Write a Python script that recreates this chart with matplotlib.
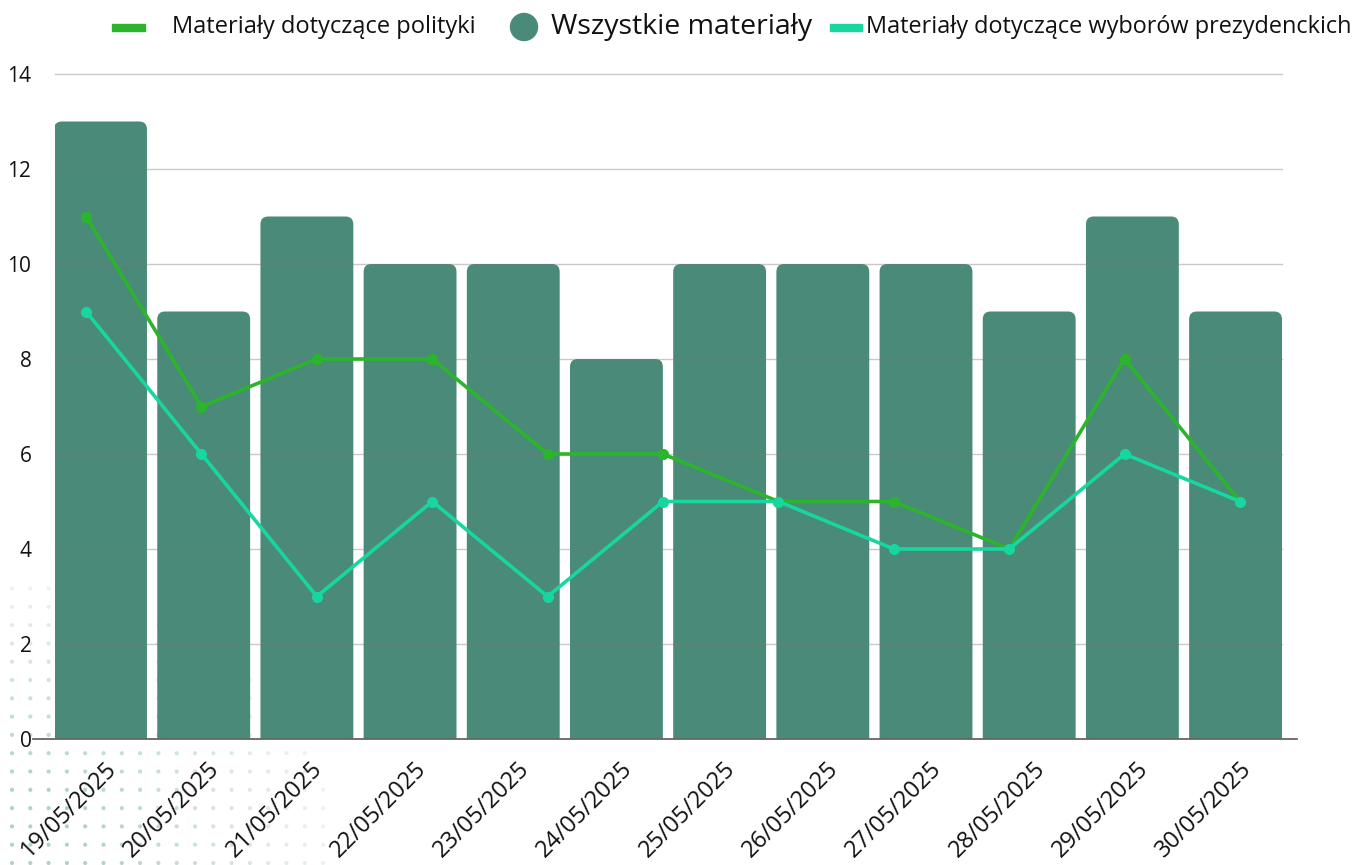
import numpy as np
import matplotlib
matplotlib.use("Agg")
import matplotlib.pyplot as plt
from matplotlib.patches import FancyBboxPatch, Rectangle, Ellipse
import matplotlib.transforms as mtransforms

plt.rcParams['font.family'] = ['Open Sans', 'DejaVu Sans']

dates = ["19/05/2025", "20/05/2025", "21/05/2025", "22/05/2025", "23/05/2025",
         "24/05/2025", "25/05/2025", "26/05/2025", "27/05/2025", "28/05/2025",
         "29/05/2025", "30/05/2025"]
wszystkie = [13, 9, 11, 10, 10, 8, 10, 10, 10, 9, 11, 9]
polityka = [11, 7, 8, 8, 6, 6, 5, 5, 4, 8, 5]
wybory = [9, 6, 3, 5, 3, 5, 5, 4, 4, 6, 5]

BAR = '#4a8a78'
GREEN = '#2cb52c'
TEAL = '#17d6a0'
TXT = '#111111'

W, H = 1357, 865
fig = plt.figure(figsize=(W / 100, H / 100), dpi=100)

# decorative dot pattern (lower-left), background axes in pixel units
bg = fig.add_axes([0, 0, 1, 1], zorder=-1)
bg.set_xlim(0, W)
bg.set_ylim(0, H)
bg.axis('off')
xs = np.arange(12, 360, 18.3)
ys = np.arange(2, 300, 18.3)
gx, gy = np.meshgrid(xs, ys)
d = np.hypot(gx / 340, gy / 290)
m = d < 1.0
bg.scatter(gx[m], gy[m], s=9, color='#a9cfc0',
           alpha=np.clip(1.2 - d[m], 0.2, 0.9), linewidths=0)

ax = fig.add_axes([55 / W, 1 - 739 / H, (1282 - 55) / W, (739 - 74) / H])
ax.set_facecolor('none')

x = np.arange(len(dates))
bars = ax.bar(x, wszystkie, width=0.9, color=BAR, zorder=2)
ax.set_xlim(-0.441, 11.45)
ax.set_ylim(0, 14)

# rounded top corners
for b in bars:
    bx, by = b.get_x(), b.get_y()
    bw, bh = b.get_width(), b.get_height()
    b.set_visible(False)
    p = FancyBboxPatch((bx, by - 0.5), bw, bh + 0.5,
                       boxstyle="round,pad=0,rounding_size=0.075",
                       mutation_aspect=2.2, facecolor=BAR, edgecolor='none',
                       zorder=2, clip_on=True)
    ax.add_patch(p)

ax.set_yticks(np.arange(0, 15, 2))
for yv in np.arange(2, 15, 2):
    ax.axhline(yv, color='#7a7a7a', alpha=0.4, lw=1.0, zorder=3, clip_on=False)
ax.axhline(0, xmin=-0.018, xmax=1.012, color='#666666', lw=1.3, zorder=4, clip_on=False)

for s in ax.spines.values():
    s.set_visible(False)
ax.tick_params(axis='y', length=0, pad=17, labelsize=15, labelcolor=TXT)
ax.tick_params(axis='x', length=0, pad=13, labelsize=17, labelcolor=TXT)
ax.set_xticks(x)
ax.set_xticklabels(dates, rotation=45, ha='right', va='top', rotation_mode='anchor')
offset = mtransforms.ScaledTranslation(4 / 100, 0, fig.dpi_scale_trans)
for lab in ax.get_xticklabels():
    lab.set_transform(lab.get_transform() + offset)

# lines on their own category scale
ax2 = ax.twiny()
ax2.set_facecolor('none')
xl = np.arange(len(polityka))
ax2.plot(xl, polityka, color=GREEN, lw=2.6, marker='o', ms=7, zorder=5)
ax2.plot(xl, wybory, color=TEAL, lw=2.6, marker='o', ms=7, zorder=5)
ax2.set_xlim(-0.269, 10.364)
ax2.set_ylim(0, 14)
ax2.set_xticks([])
for s in ax2.spines.values():
    s.set_visible(False)

# legend
def fx(px):
    return px / W

def fy(py):
    return 1 - py / H

fig.add_artist(Rectangle((fx(112), fy(31)), 33 / W, 7 / H, color=GREEN,
                         transform=fig.transFigure))
fig.text(fx(172), fy(27), "Materiały dotyczące polityki", fontsize=17,
         va='center', ha='left', color=TXT)
fig.add_artist(Ellipse((fx(524), fy(27)), 27 / W, 27 / H, color=BAR,
                       transform=fig.transFigure))
fig.text(fx(551), fy(27), "Wszystkie materiały", fontsize=20.5,
         va='center', ha='left', color=TXT)
fig.add_artist(Rectangle((fx(830), fy(31)), 32 / W, 7 / H, color=TEAL,
                         transform=fig.transFigure))
fig.text(fx(866), fy(27), "Materiały dotyczące wyborów prezydenckich", fontsize=16.9,
         va='center', ha='left', color=TXT)

fig.savefig("out.png", dpi=100)
